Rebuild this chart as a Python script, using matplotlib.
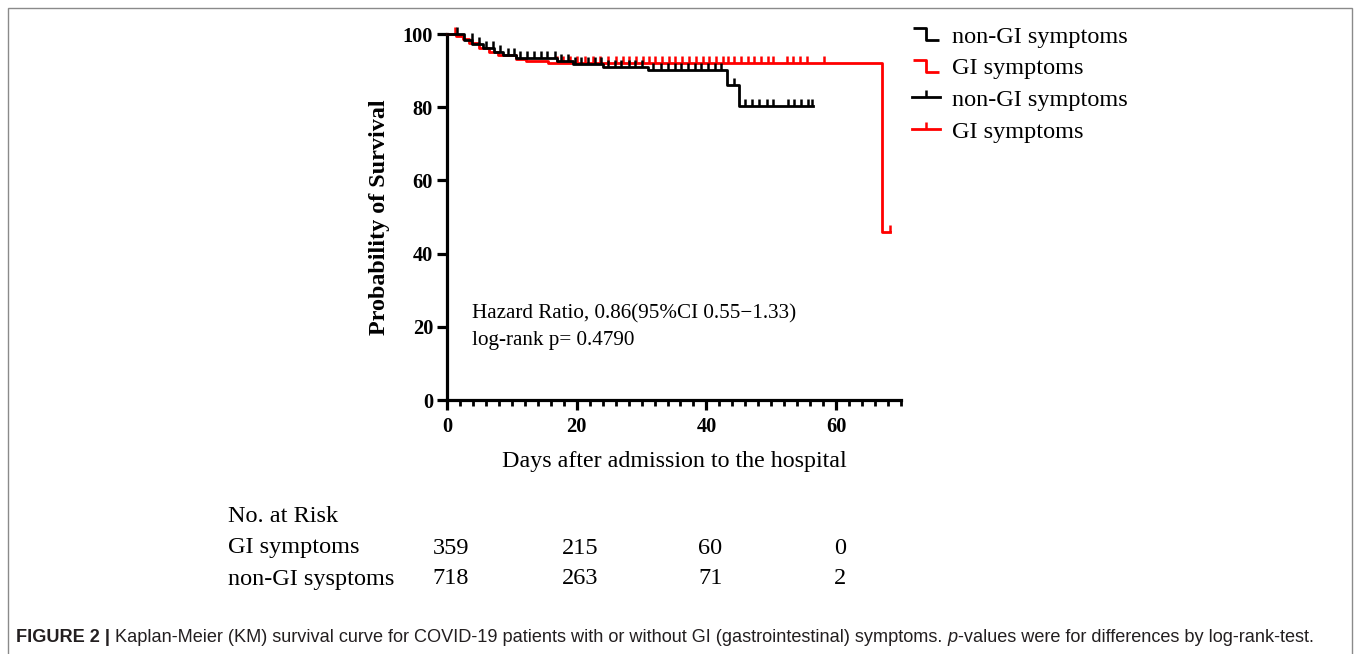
import numpy as np
import matplotlib
matplotlib.use("Agg")
import matplotlib.pyplot as plt
import matplotlib.transforms as mtransforms
from matplotlib.lines import Line2D
from matplotlib.patches import Rectangle

# Kaplan-Meier steps (day, % surviving)
non_gi_days = [0, 2.6, 3.9, 5.5, 7.3, 8.6, 10.7, 16.9, 19.4, 24.0, 31.0, 43.1, 45.0, 56.4]
non_gi_surv = [100, 98.4, 97.2, 96.1, 95.2, 94.3, 93.5, 92.5, 91.8, 91.1, 90.3, 86.0, 80.2, 80.2]
gi_days = [0, 1.4, 2.5, 3.4, 5.0, 6.5, 7.8, 10.7, 12.2, 15.5, 67.1, 68.3]
gi_surv = [100, 99.5, 98.6, 97.5, 96.2, 95.2, 94.3, 93.3, 92.7, 92.0, 45.9, 45.9]

# censoring marks (days)
non_gi_censor = [1.5, 3.8, 5.0, 6.0, 7.1, 8.2, 9.4, 10.3, 11.3, 12.4, 13.4, 14.5, 15.4,
                 16.6, 17.6, 18.7, 19.7, 20.7, 21.8, 22.8, 23.8, 24.9, 25.9, 26.9, 28.0,
                 29.0, 30.0, 31.8, 33.0, 34.1, 35.1, 36.1, 37.2, 38.2, 39.2, 40.3, 41.3,
                 42.2, 44.2, 45.9, 47.0, 48.1, 49.3, 50.2, 52.6, 53.5, 54.6, 55.7, 56.3]
gi_censor = [1.2, 16.9, 17.9, 18.9, 20.0, 21.3, 22.5, 23.6, 24.9, 26.1, 27.1, 28.1, 29.1,
             30.2, 31.2, 32.1, 33.1, 34.2, 35.2, 36.3, 37.3, 38.4, 39.4, 40.4, 41.5, 42.5,
             43.3, 44.3, 45.3, 46.4, 47.4, 48.4, 49.5, 50.3, 52.4, 53.4, 54.4, 55.5, 58.2, 68.3]

# number at risk table
risk_days = [0, 20, 40, 60]
risk_gi = [359, 215, 60, 0]
risk_non_gi = [718, 263, 71, 2]

plt.rcParams['font.family'] = 'Liberation Serif'

W, H = 1358, 654
fig = plt.figure(figsize=(W / 100, H / 100), dpi=100)
ax = fig.add_axes([447 / W, 1 - 400 / H, 454 / W, 366 / H])

tick_up = [(0, 0), (0, 1)]


def level_at(days, surv, t):
    idx = np.searchsorted(days, t, side='right') - 1
    return np.asarray(surv)[idx]


ax.step(gi_days, gi_surv, where='post', color='#ff0000', lw=2.0, clip_on=False, zorder=3)
ax.plot(gi_censor, level_at(gi_days, gi_surv, gi_censor), ls='none', marker=tick_up,
        markersize=10, mew=1.8, color='#ff0000', clip_on=False, zorder=3)
ax.step(non_gi_days, non_gi_surv, where='post', color='black', lw=2.0, clip_on=False, zorder=4)
ax.plot(non_gi_censor, level_at(non_gi_days, non_gi_surv, non_gi_censor), ls='none',
        marker=tick_up, markersize=10, mew=1.8, color='black', clip_on=False, zorder=4)

ax.set_xlim(0, 70)
ax.set_ylim(0, 100)
ax.set_xticks(risk_days)
ax.set_xticks(np.arange(0, 71, 2), minor=True)
ax.set_yticks([0, 20, 40, 60, 80, 100])
for s in ['top', 'right']:
    ax.spines[s].set_visible(False)
for s in ['left', 'bottom']:
    ax.spines[s].set_linewidth(2.3)
ax.tick_params(axis='both', which='major', length=7.5, width=2.3, labelsize=14.7)
ax.tick_params(axis='x', which='major', pad=5)
ax.tick_params(axis='y', which='major', pad=2.5)
ax.tick_params(axis='x', which='minor', length=4.5, width=2.0)
for lab in ax.get_xticklabels() + ax.get_yticklabels():
    lab.set_fontweight('bold')

ax.set_ylabel('Probability of Survival', fontsize=17.4, fontweight='bold')
ax.yaxis.set_label_coords(-0.1256, 0.5)
ax.set_xlabel('Days after admission to the hospital', fontsize=17.3)
ax.xaxis.label.set_va('baseline')
ax.xaxis.set_label_coords(0.5, (400 - 467.5) / 366)

ax.text(25 / 454, (400 - 318) / 366, 'Hazard Ratio, 0.86(95%CI 0.55\u22121.33)',
        transform=ax.transAxes, fontsize=15.2, va='baseline')
ax.text(25 / 454, (400 - 345) / 366, 'log-rank p= 0.4790',
        transform=ax.transAxes, fontsize=15.2, va='baseline')

# legend
step_shape = [(-1, 0.45), (0, 0.45), (0, -0.45), (1, -0.45)]
handles = [
    Line2D([], [], color='black', ls='none', marker=step_shape, markersize=19,
           mfc='none', mew=2.0),
    Line2D([], [], color='#ff0000', ls='none', marker=step_shape, markersize=19,
           mfc='none', mew=2.0),
    Line2D([], [], color='black', lw=2.0, marker=tick_up, markersize=10, mew=1.8),
    Line2D([], [], color='#ff0000', lw=2.0, marker=tick_up, markersize=10, mew=1.8),
]
labels = ['non-GI symptoms', 'GI symptoms', 'non-GI symptoms', 'GI symptoms']
fig.legend(handles, labels, loc='upper left', bbox_to_anchor=(912 / W, 1 - 25.5 / H),
           frameon=False, fontsize=17.5, numpoints=1, handlelength=1.15,
           handletextpad=0.5, labelspacing=0.4, borderpad=0, borderaxespad=0)

# number at risk
blend = mtransforms.blended_transform_factory(ax.transData, fig.transFigure)
fig.text(228 / W, 1 - 522.5 / H, 'No. at Risk', fontsize=17.5, va='baseline')
fig.text(228 / W, 1 - 553.5 / H, 'GI symptoms', fontsize=17.5, va='baseline')
fig.text(228 / W, 1 - 584.5 / H, 'non-GI sysptoms', fontsize=17.5, va='baseline')
for d, a, b in zip(risk_days, risk_gi, risk_non_gi):
    ax.text(d + 0.6, 1 - 553.5 / H, str(a), transform=blend, fontsize=17.5,
            ha='center', va='baseline')
    ax.text(d + 0.6, 1 - 584.5 / H, str(b), transform=blend, fontsize=17.5,
            ha='center', va='baseline')

# frame and caption
fig.add_artist(Rectangle((8 / W, -0.05), (1352 - 8) / W, 1 - 8 / H + 0.05,
                         transform=fig.transFigure, fill=False, ec='#8a8a8a', lw=1.0))

cap_font = dict(family='Liberation Sans', size=13.1)
pieces = [('FIGURE 2 |', 'bold', 'normal'),
          (' Kaplan-Meier (KM) survival curve for COVID-19 patients with or without GI '
           '(gastrointestinal) symptoms.', 'normal', 'normal'),
          (' p', 'normal', 'italic'),
          ('-values were for differences by log-rank-test.', 'normal', 'normal')]
renderer = fig.canvas.get_renderer()
probe1 = fig.text(0, 0, 'x x', **cap_font)
probe2 = fig.text(0, 0, 'xx', **cap_font)
space_w = (probe1.get_window_extent(renderer).width
           - probe2.get_window_extent(renderer).width)
probe1.remove()
probe2.remove()
x_px = 16
for txt, wt, st in pieces:
    lead = txt.startswith(' ')
    if lead:
        x_px += space_w
        txt = txt[1:]
    t = fig.text(x_px / W, 1 - 641.5 / H, txt, fontweight=wt, fontstyle=st,
                 va='baseline', color='#231f20', **cap_font)
    x_px += t.get_window_extent(renderer).width

fig.savefig('out.png', dpi=100)
